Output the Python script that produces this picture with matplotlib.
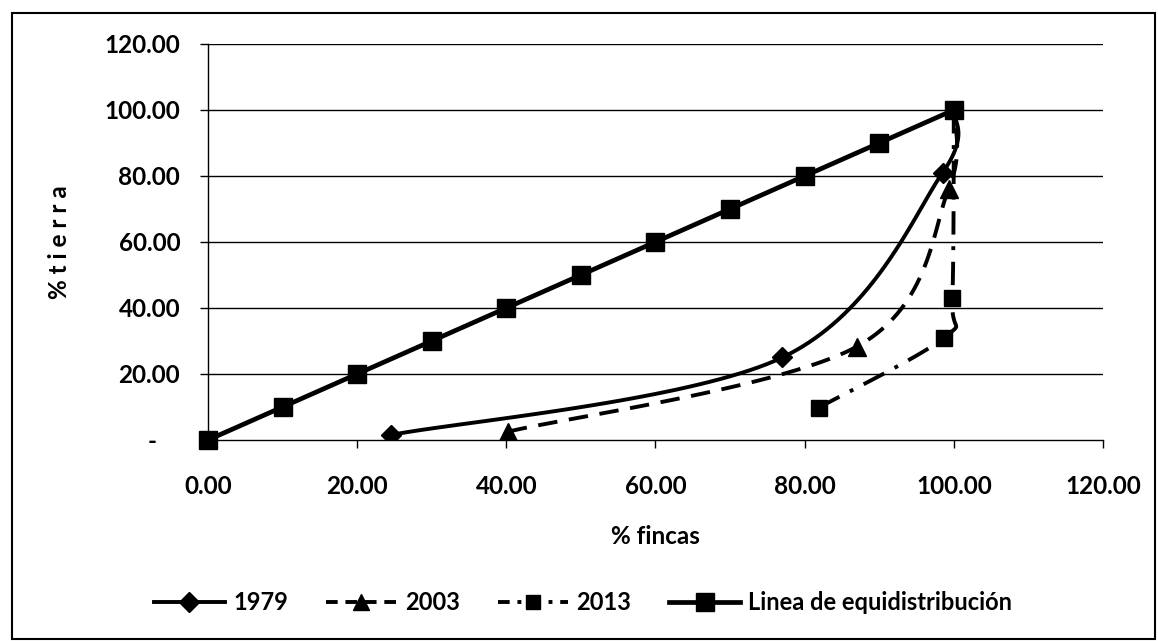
import numpy as np
import matplotlib
matplotlib.use("Agg")
import matplotlib.pyplot as plt
from matplotlib.patches import Rectangle
from matplotlib.lines import Line2D

plt.rcParams['font.family'] = ['Lato', 'DejaVu Sans']

# Data
x1979 = [24.5, 77.0, 98.5, 100.0]
y1979 = [1.5, 25.0, 81.0, 100.0]
x2003 = [40.2, 87.0, 99.3, 100.0]
y2003 = [2.5, 28.3, 76.0, 100.0]
x2013 = [81.9, 98.7, 99.8, 100.0]
y2013 = [9.8, 31.0, 43.0, 100.0]
x_eq = [0, 10, 20, 30, 40, 50, 60, 70, 80, 90, 100]
y_eq = [0, 10, 20, 30, 40, 50, 60, 70, 80, 90, 100]
ticks = [0, 20, 40, 60, 80, 100, 120]
xticklabels = ["0.00", "20.00", "40.00", "60.00", "80.00", "100.00", "120.00"]
yticklabels = ["-    ", "20.00", "40.00", "60.00", "80.00", "100.00", "120.00"]


def smooth(xs, ys, n=40):
    """Excel-like smoothed line (Catmull-Rom Bezier) through the points."""
    P = np.column_stack([xs, ys]).astype(float)
    m = len(P)
    out = []
    for i in range(m - 1):
        p0 = P[i - 1] if i > 0 else P[i]
        p1 = P[i]
        p2 = P[i + 1]
        p3 = P[i + 2] if i + 2 < m else P[i + 1]
        c1 = p1 + (p2 - p0) / 6.0
        c2 = p2 - (p3 - p1) / 6.0
        t = np.linspace(0, 1, n)[:, None]
        seg = ((1 - t) ** 3) * p1 + 3 * ((1 - t) ** 2) * t * c1 + 3 * (1 - t) * t ** 2 * c2 + t ** 3 * p2
        out.append(seg if i == 0 else seg[1:])
    s = np.vstack(out)
    return s[:, 0], s[:, 1]


fig = plt.figure(figsize=(11.58, 6.41), dpi=100)
ax = fig.add_axes([0.1796, 0.3136, 0.7729, 0.6178])
ax.set_xlim(0, 120)
ax.set_ylim(0, 120)

for v in ticks[1:]:
    ax.axhline(v, color='black', lw=1.0, zorder=1)

# 2013 dash-dot
sx, sy = smooth(x2013, y2013)
ax.plot(sx, sy, color='black', lw=2.8, linestyle=(0, (6, 3, 1, 3)), zorder=3)
ax.plot(x2013[:3], y2013[:3], 's', color='black', ms=12, zorder=4)
# 2003 dashed
sx, sy = smooth(x2003, y2003)
ax.plot(sx, sy, color='black', lw=2.8, linestyle=(0, (5, 3)), zorder=3)
ax.plot(x2003[:3], y2003[:3], '^', color='black', ms=13, zorder=4)
# 1979 solid
sx, sy = smooth(x1979, y1979)
ax.plot(sx, sy, color='black', lw=2.8, zorder=3)
ax.plot(x1979[:3], y1979[:3], 'D', color='black', ms=10, zorder=4)
# equidistribution
ax.plot(x_eq, y_eq, color='black', lw=3.4, marker='s', ms=13, zorder=5, clip_on=False)

ax.set_xticks(ticks)
ax.set_xticklabels(xticklabels)
ax.set_yticks(ticks)
ax.set_yticklabels(yticklabels)
ax.tick_params(axis='both', labelsize=17.5, length=6, width=1.0, direction='out')
ax.tick_params(axis='x', pad=19)
ax.tick_params(axis='y', pad=14)
for lab in ax.get_xticklabels() + ax.get_yticklabels():
    lab.set_fontweight('bold')

for s in ['top', 'right']:
    ax.spines[s].set_visible(False)
ax.spines['left'].set_linewidth(1.0)
ax.spines['bottom'].set_linewidth(1.0)

ax.set_xlabel('% fincas', fontsize=17.5, fontweight='bold', labelpad=20)
ax.set_ylabel('% t i e r r a', fontsize=17.5, fontweight='bold', labelpad=24)

handles = [
    Line2D([], [], color='black', lw=2.8, marker='D', ms=10),
    Line2D([], [], color='black', lw=2.8, linestyle=(0, (3, 2)), marker='^', ms=12),
    Line2D([], [], color='black', lw=2.8, linestyle=(0, (3, 2, 1, 2)), marker='s', ms=10),
    Line2D([], [], color='black', lw=3.4, marker='s', ms=13),
]
fig.legend(handles, ['1979', '2003', '2013', 'Linea de equidistribución'],
           loc='center left', bbox_to_anchor=(0.133, 1 - 603 / 641), ncol=4,
           frameon=False, prop={'size': 17, 'weight': 'bold'},
           handlelength=3.0, columnspacing=1.6, handletextpad=0.35,
           borderaxespad=0, borderpad=0)

fig.patches.append(Rectangle((12 / 1158, 1 - 639 / 641), 1143 / 1158, 626 / 641,
                             transform=fig.transFigure, fill=False,
                             edgecolor='black', lw=1.5))

fig.savefig('out.png', dpi=100)
